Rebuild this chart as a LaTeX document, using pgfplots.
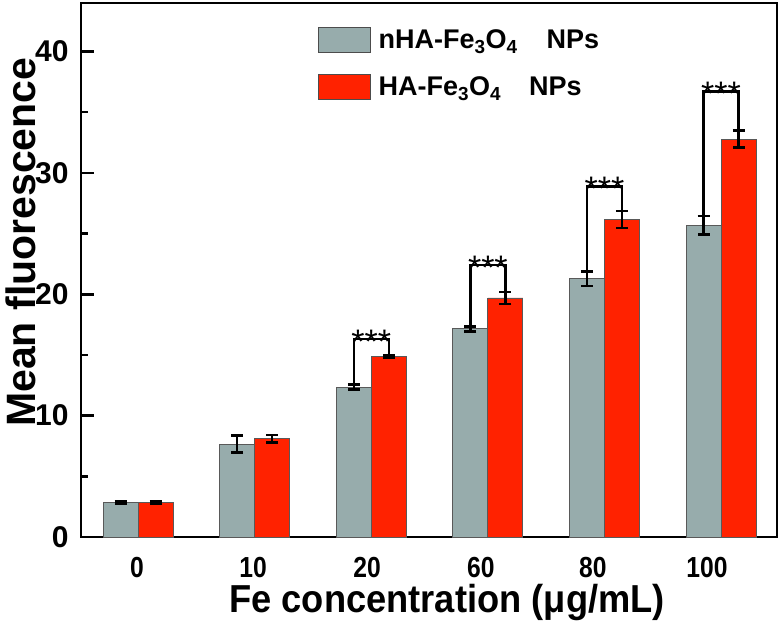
\documentclass[border=0pt]{standalone}
\usepackage{fontspec}
\setmainfont{Liberation Sans}
\newfontfamily\narrowA[FakeStretch=0.85]{Liberation Sans}
\newfontfamily\narrowB[FakeStretch=0.93]{Liberation Sans}
\usepackage{pgfplots}
\usepackage{pgfplotstable}
\pgfplotsset{compat=1.18}
\definecolor{grayb}{HTML}{97ACAC}
\definecolor{redb}{HTML}{FF2200}
\pgfplotstableread{
xg xr g ge r re
-0.15 0.15 2.88 0.1 2.87 0.1
0.85 1.15 7.65 0.7 8.10 0.3
1.85 2.15 12.35 0.2 14.85 0.12
2.85 3.15 17.15 0.2 19.70 0.5
3.85 4.15 21.27 0.6 26.15 0.7
4.85 5.15 25.68 0.75 32.78 0.7
}\datatab
\begin{document}
\begin{tikzpicture}
\begin{axis}[
 scale only axis, width=696bp, height=534bp,
 xmin=-0.49, xmax=5.48, ymin=0, ymax=44,
 axis line style={line width=2.5bp},
 ytick={0,10,20,30,40}, minor ytick={5,15,25,35},
 ytick pos=left, tick align=inside,
 major tick length=13bp, minor tick length=7bp,
 every tick/.style={black, line width=2.5bp},
 xtick={-0.01,0.986,1.964,2.94,3.9,4.88},
 xticklabels={0,10,20,60,80,100},
 xtick style={draw=none},
 xticklabel style={font=\narrowA\bfseries\fontsize{29bp}{32bp}\selectfont, yshift=-17bp},
 yticklabel style={font=\bfseries\fontsize{30bp}{32bp}\selectfont, /pgf/number format/assume math mode=true, xshift=-9bp},
 xlabel={Fe concentration (μg/mL)},
 ylabel={Mean fluorescence},
 xlabel style={font=\narrowB\bfseries\fontsize{39bp}{44bp}\selectfont, at={(axis description cs:0.526,-0.122)}, anchor=center},
 ylabel style={font=\bfseries\fontsize{41bp}{46bp}\selectfont, at={(axis description cs:-0.087,0.552)}, anchor=center, rotate=0},
 legend style={draw=none, fill=none, at={(rel axis cs:0.34,0.955)}, anchor=north west,
   font=\bfseries\fontsize{27bp}{30bp}\selectfont, row sep=21bp, inner sep=0pt, cells={anchor=west},
   nodes={inner xsep=8bp}},
 legend image code/.code={\draw[#1, draw=black!70, line width=0.8bp] (0bp,-12.5bp) rectangle (52bp,12.5bp);},
]
\addplot[ybar, bar width=35bp, bar shift=0bp, fill=grayb, draw=black!65, line width=0.8bp,
  error bars/.cd, y dir=both, y explicit,
  error bar style={line width=2.5bp, black},
  error mark options={rotate=90, mark size=6bp, line width=2.5bp, black}]
  table[x=xg, y=g, y error=ge] {\datatab};
\addlegendentry{nHA-Fe\textsubscript{3}O\textsubscript{4}\hspace{29bp}NPs}
\addplot[ybar, bar width=35bp, bar shift=0bp, fill=redb, draw=black!65, line width=0.8bp,
  error bars/.cd, y dir=both, y explicit,
  error bar style={line width=2.5bp, black},
  error mark options={rotate=90, mark size=6bp, line width=2.5bp, black}]
  table[x=xr, y=r, y error=re] {\datatab};
\addlegendentry{HA-Fe\textsubscript{3}O\textsubscript{4}\hspace{28bp}NPs}
\addplot[forget plot, black, line width=2.5bp, sharp plot, no markers] coordinates {(1.85,12.55) (1.85,16.3) (2.15,16.3) (2.15,14.97)};
\addplot[forget plot, black, line width=2.5bp, sharp plot, no markers] coordinates {(2.85,17.35) (2.85,22.4) (3.15,22.4) (3.15,20.2)};
\addplot[forget plot, black, line width=2.5bp, sharp plot, no markers] coordinates {(3.85,21.87) (3.85,28.9) (4.15,28.9) (4.15,26.85)};
\addplot[forget plot, black, line width=2.5bp, sharp plot, no markers] coordinates {(4.85,26.43) (4.85,36.7) (5.15,36.7) (5.15,33.48)};
\node[font=\fontsize{34bp}{34bp}\selectfont, anchor=base, inner sep=0pt, yshift=-14bp] at (axis cs:2,16.3) {***};
\node[font=\fontsize{34bp}{34bp}\selectfont, anchor=base, inner sep=0pt, yshift=-14bp] at (axis cs:3,22.4) {***};
\node[font=\fontsize{34bp}{34bp}\selectfont, anchor=base, inner sep=0pt, yshift=-14bp] at (axis cs:4,28.9) {***};
\node[font=\fontsize{34bp}{34bp}\selectfont, anchor=base, inner sep=0pt, yshift=-14bp] at (axis cs:5,36.7) {***};
\end{axis}
\pgfresetboundingbox
\path (-81bp,-89bp) rectangle (701bp,537bp);
\end{tikzpicture}
\end{document}
